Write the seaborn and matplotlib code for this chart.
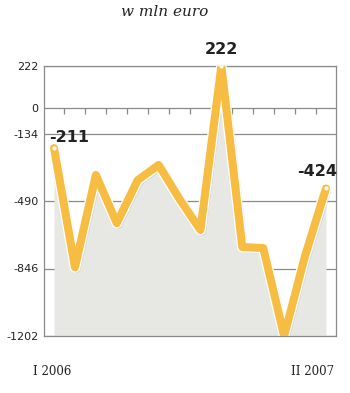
import numpy as np
import pandas as pd
import matplotlib
matplotlib.use("Agg")
import matplotlib.pyplot as plt
import matplotlib.patheffects as pe
import seaborn as sns

# ---- data ----
months = list(range(14))  # I 2006 .. II 2007
values = [-211, -840, -353, -607, -380, -300, -480, -643, 222, -733, -738, -1202, -780, -424]
ytick_values = [222, 0, -134, -490, -846, -1202]
xtick_labels = ["I 2006", "II 2007"]
annot_idx = [0, 8, 13]
title = "w mln euro"

sns.set_theme(style="white")
plt.rcParams['font.family'] = ['DejaVu Sans']

df = pd.DataFrame({"m": months, "v": values})

fig = plt.figure(figsize=(3.5, 3.93), dpi=100)
ax = fig.add_axes([44/350, 1-336/393, (336-44)/350, (336-66)/393])

ymin, ymax = -1202, 222
ax.set_xlim(-0.48, 13.48)
ax.set_ylim(ymin, ymax)

# gridlines
for yv in ytick_values:
    ax.axhline(yv, color="#8a8a8a", lw=0.9, zorder=1)

# small ticks on the zero line between months
mids = np.array(months[:-1]) + 0.5
ax.vlines(mids, -32, 0, color="#8a8a8a", lw=0.9, zorder=1)

# fill
ax.fill_between(df["m"], df["v"], ymin, color="#e7e7e3", zorder=2, lw=0)

line_color = "#f6bd42"
sns.lineplot(data=df, x="m", y="v", ax=ax, color=line_color, lw=5.8,
             zorder=4, solid_joinstyle="round", solid_capstyle="round")
ln = ax.lines[-1]
ln.set_path_effects([
    pe.SimpleLineShadow(offset=(1.2, -1.2), shadow_color="#999999", alpha=0.18),
    pe.Stroke(linewidth=7.6, foreground="white"),
    pe.Normal(),
])
ln.set_solid_joinstyle("round")

# end markers
ax.scatter([months[i] for i in annot_idx], [values[i] for i in annot_idx],
           s=9, color="white", zorder=6, lw=0)

# annotations
offsets = {0: (0.7, 18), 8: (0.0, 48), 13: (-0.4, 50)}
for i in annot_idx:
    dx, dy = offsets[i]
    ax.text(months[i] + dx, values[i] + dy, f"{values[i]}", ha="center", va="bottom",
            fontsize=11.5, fontweight="bold", color="#222222", zorder=7)

# axes style
for s in ["left", "right", "top", "bottom"]:
    ax.spines[s].set_visible(True)
    ax.spines[s].set_color("#8a8a8a")
    ax.spines[s].set_linewidth(0.9)
ax.set_yticks(ytick_values)
ax.set_yticklabels([str(v) for v in ytick_values], fontsize=8, color="#222222")
ax.tick_params(axis="y", length=0, pad=4)
ax.set_xticks([months[0] - 0.1, months[-1] - 0.65])
ax.set_xticklabels(xtick_labels, fontsize=8.5, color="#222222",
                   fontfamily="DejaVu Serif")
ax.tick_params(axis="x", length=0, pad=21)
ax.set_xlabel("")
ax.set_ylabel("")

fig.text(165/350, 1-12/393, title, ha="center", va="center", fontsize=11,
         style="italic", family="DejaVu Serif", color="#222222")

fig.savefig("out.png", dpi=100, facecolor="white")
